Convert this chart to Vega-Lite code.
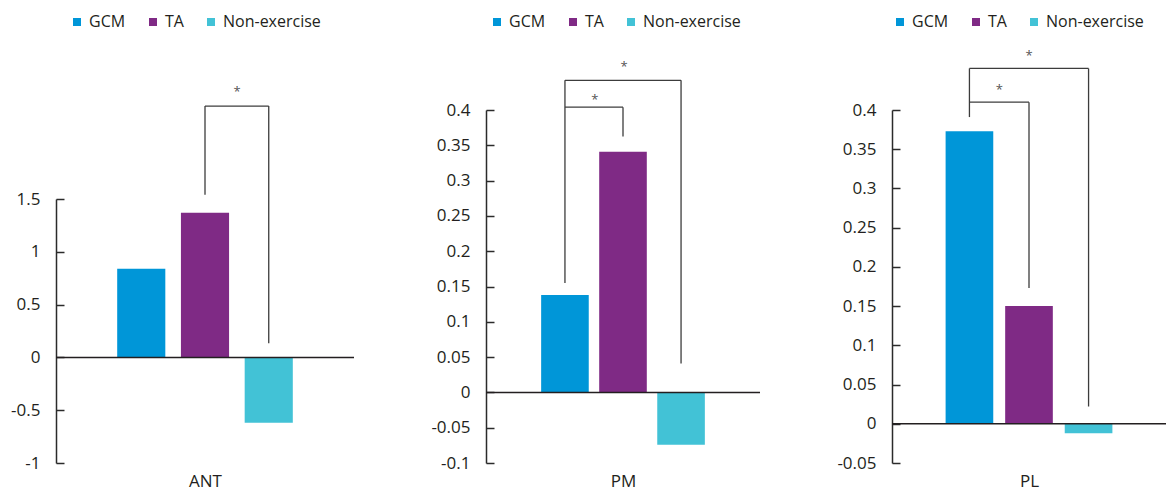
{
  "$schema": "https://vega.github.io/schema/vega-lite/v6.json",
  "background": "white",
  "padding": {"left": 10, "top": 14, "right": 0, "bottom": 0},
  "datasets": {
    "bars": [
      {"panel": "ANT", "group": "GCM", "value": 0.84},
      {"panel": "ANT", "group": "TA", "value": 1.37},
      {"panel": "ANT", "group": "Non-exercise", "value": -0.62},
      {"panel": "PM", "group": "GCM", "value": 0.138},
      {"panel": "PM", "group": "TA", "value": 0.341},
      {"panel": "PM", "group": "Non-exercise", "value": -0.074},
      {"panel": "PL", "group": "GCM", "value": 0.373},
      {"panel": "PL", "group": "TA", "value": 0.15},
      {"panel": "PL", "group": "Non-exercise", "value": -0.012}
    ],
    "zero": [
      {"panel": "ANT", "value": 0},
      {"panel": "PM", "value": 0},
      {"panel": "PL", "value": 0}
    ],
    "brackets": [
      {"panel": "ANT", "g1": "TA", "g2": "TA", "v1": 1.54, "v2": 2.38},
      {"panel": "ANT", "g1": "TA", "g2": "Non-exercise", "v1": 2.38, "v2": 2.38},
      {"panel": "ANT", "g1": "Non-exercise", "g2": "Non-exercise", "v1": 2.38, "v2": 0.135},
      {"panel": "PM", "g1": "GCM", "g2": "GCM", "v1": 0.155, "v2": 0.442},
      {"panel": "PM", "g1": "GCM", "g2": "Non-exercise", "v1": 0.442, "v2": 0.442},
      {"panel": "PM", "g1": "Non-exercise", "g2": "Non-exercise", "v1": 0.442, "v2": 0.041},
      {"panel": "PM", "g1": "GCM", "g2": "TA", "v1": 0.404, "v2": 0.404},
      {"panel": "PM", "g1": "TA", "g2": "TA", "v1": 0.404, "v2": 0.3625},
      {"panel": "PL", "g1": "GCM", "g2": "GCM", "v1": 0.391, "v2": 0.453},
      {"panel": "PL", "g1": "GCM", "g2": "Non-exercise", "v1": 0.453, "v2": 0.453},
      {"panel": "PL", "g1": "Non-exercise", "g2": "Non-exercise", "v1": 0.453, "v2": 0.022},
      {"panel": "PL", "g1": "GCM", "g2": "TA", "v1": 0.41, "v2": 0.41},
      {"panel": "PL", "g1": "TA", "g2": "TA", "v1": 0.41, "v2": 0.173}
    ],
    "stars": [
      {"panel": "ANT", "at": "TA", "mid": true, "v": 2.547, "label": "*"},
      {"panel": "PM", "at": "TA", "mid": false, "v": 0.466, "label": "*"},
      {"panel": "PM", "at": "GCM", "mid": true, "v": 0.42, "label": "*"},
      {"panel": "PL", "at": "TA", "mid": false, "v": 0.474, "label": "*"},
      {"panel": "PL", "at": "GCM", "mid": true, "v": 0.431, "label": "*"}
    ]
  },
  "spacing": 75,
  "resolve": {"scale": {"x": "independent", "y": "independent"}, "legend": {"color": "independent"}},
  "hconcat": [
    {
      "width": 298,
      "height": 353,
      "layer": [
        {
          "data": {"name": "bars"},
          "transform": [{"filter": "datum.panel == 'ANT'"}],
          "mark": {"type": "bar"},
          "encoding": {
            "x": {"field": "group", "type": "nominal", "sort": ["GCM", "TA", "Non-exercise"],
                  "scale": {"domain": ["GCM", "TA", "Non-exercise"], "paddingInner": 0.245, "paddingOuter": 0.96},
                  "axis": {"title": "ANT", "labels": false, "ticks": false, "domain": false}},
            "y": {"field": "value", "type": "quantitative", "scale": {"domain": [-1, 2.343], "nice": false},
                  "axis": {"title": null, "values": [-1, -0.5, 0, 0.5, 1, 1.5], "labelExpr": "'' + datum.value",
                           "tickCount": 20, "labelOverlap": false, "domainDash": [264, 200]}},
            "color": {"field": "group", "type": "nominal",
                      "scale": {"domain": ["GCM", "TA", "Non-exercise"], "range": ["#0096D8", "#7F2A85", "#42C2D6"]},
                      "legend": {"legendX": 13, "legendY": -96}}
          }
        },
        {
          "data": {"name": "zero"},
          "transform": [{"filter": "datum.panel == 'ANT'"}],
          "mark": {"type": "rule", "color": "#231f20", "strokeWidth": 1.5},
          "encoding": {"y": {"field": "value", "type": "quantitative"}}
        },
        {
          "data": {"name": "brackets"},
          "transform": [{"filter": "datum.panel == 'ANT'"}],
          "mark": {"type": "rule", "color": "#3c3c3c", "strokeWidth": 1.3},
          "encoding": {
            "x": {"field": "g1", "type": "nominal"},
            "x2": {"field": "g2"},
            "y": {"field": "v1", "type": "quantitative"},
            "y2": {"field": "v2"}
          }
        },
        {
          "data": {"name": "stars"},
          "transform": [{"filter": "datum.panel == 'ANT' && datum.mid"}],
          "mark": {"type": "text", "dx": 32, "dy": 4, "fontSize": 13, "color": "#555555", "baseline": "middle"},
          "encoding": {
            "x": {"field": "at", "type": "nominal"},
            "y": {"field": "v", "type": "quantitative"},
            "text": {"field": "label"}
          }
        }
      ]
    },
    {
      "width": 274,
      "height": 353,
      "layer": [
        {
          "data": {"name": "bars"},
          "transform": [{"filter": "datum.panel == 'PM'"}],
          "mark": {"type": "bar"},
          "encoding": {
            "x": {"field": "group", "type": "nominal", "sort": ["GCM", "TA", "Non-exercise"],
                  "scale": {"domain": ["GCM", "TA", "Non-exercise"], "paddingInner": 0.18, "paddingOuter": 0.95},
                  "axis": {"title": "PM", "labels": false, "ticks": false, "domain": false}},
            "y": {"field": "value", "type": "quantitative", "scale": {"domain": [-0.1, 0.4], "nice": false},
                  "axis": {"title": null, "values": [-0.1, -0.05, 0, 0.05, 0.1, 0.15, 0.2, 0.25, 0.3, 0.35, 0.4], "labelExpr": "'' + datum.value",
                           "tickCount": 20, "labelOverlap": false}},
            "color": {"field": "group", "type": "nominal",
                      "scale": {"domain": ["GCM", "TA", "Non-exercise"], "range": ["#0096D8", "#7F2A85", "#42C2D6"]},
                      "legend": {"legendX": 3, "legendY": -96}}
          }
        },
        {
          "data": {"name": "zero"},
          "transform": [{"filter": "datum.panel == 'PM'"}],
          "mark": {"type": "rule", "color": "#231f20", "strokeWidth": 1.5},
          "encoding": {"y": {"field": "value", "type": "quantitative"}}
        },
        {
          "data": {"name": "brackets"},
          "transform": [{"filter": "datum.panel == 'PM'"}],
          "mark": {"type": "rule", "color": "#3c3c3c", "strokeWidth": 1.3},
          "encoding": {
            "x": {"field": "g1", "type": "nominal"},
            "x2": {"field": "g2"},
            "y": {"field": "v1", "type": "quantitative"},
            "y2": {"field": "v2"}
          }
        },
        {
          "data": {"name": "stars"},
          "transform": [{"filter": "datum.panel == 'PM' && datum.mid"}],
          "mark": {"type": "text", "dx": 30, "dy": 4, "fontSize": 13, "color": "#555555", "baseline": "middle"},
          "encoding": {
            "x": {"field": "at", "type": "nominal"},
            "y": {"field": "v", "type": "quantitative"},
            "text": {"field": "label"}
          }
        },
        {
          "data": {"name": "stars"},
          "transform": [{"filter": "datum.panel == 'PM' && !datum.mid"}],
          "mark": {"type": "text", "dx": 1, "dy": 4, "fontSize": 13, "color": "#555555", "baseline": "middle"},
          "encoding": {
            "x": {"field": "at", "type": "nominal"},
            "y": {"field": "v", "type": "quantitative"},
            "text": {"field": "label"}
          }
        }
      ]
    },
    {
      "width": 274,
      "height": 353,
      "layer": [
        {
          "data": {"name": "bars"},
          "transform": [{"filter": "datum.panel == 'PL'"}],
          "mark": {"type": "bar"},
          "encoding": {
            "x": {"field": "group", "type": "nominal", "sort": ["GCM", "TA", "Non-exercise"],
                  "scale": {"domain": ["GCM", "TA", "Non-exercise"], "paddingInner": 0.2, "paddingOuter": 0.9},
                  "axis": {"title": "PL", "labels": false, "ticks": false, "domain": false}},
            "y": {"field": "value", "type": "quantitative", "scale": {"domain": [-0.05, 0.4], "nice": false},
                  "axis": {"title": null, "values": [-0.05, 0, 0.05, 0.1, 0.15, 0.2, 0.25, 0.3, 0.35, 0.4], "labelExpr": "'' + datum.value",
                           "tickCount": 20, "labelOverlap": false}},
            "color": {"field": "group", "type": "nominal",
                      "scale": {"domain": ["GCM", "TA", "Non-exercise"], "range": ["#0096D8", "#7F2A85", "#42C2D6"]},
                      "legend": {"legendX": 0, "legendY": -96}}
          }
        },
        {
          "data": {"name": "zero"},
          "transform": [{"filter": "datum.panel == 'PL'"}],
          "mark": {"type": "rule", "color": "#231f20", "strokeWidth": 1.5},
          "encoding": {"y": {"field": "value", "type": "quantitative"}}
        },
        {
          "data": {"name": "brackets"},
          "transform": [{"filter": "datum.panel == 'PL'"}],
          "mark": {"type": "rule", "color": "#3c3c3c", "strokeWidth": 1.3},
          "encoding": {
            "x": {"field": "g1", "type": "nominal"},
            "x2": {"field": "g2"},
            "y": {"field": "v1", "type": "quantitative"},
            "y2": {"field": "v2"}
          }
        },
        {
          "data": {"name": "stars"},
          "transform": [{"filter": "datum.panel == 'PL' && datum.mid"}],
          "mark": {"type": "text", "dx": 30, "dy": 4, "fontSize": 13, "color": "#555555", "baseline": "middle"},
          "encoding": {
            "x": {"field": "at", "type": "nominal"},
            "y": {"field": "v", "type": "quantitative"},
            "text": {"field": "label"}
          }
        },
        {
          "data": {"name": "stars"},
          "transform": [{"filter": "datum.panel == 'PL' && !datum.mid"}],
          "mark": {"type": "text", "dx": 0, "dy": 4, "fontSize": 13, "color": "#555555", "baseline": "middle"},
          "encoding": {
            "x": {"field": "at", "type": "nominal"},
            "y": {"field": "v", "type": "quantitative"},
            "text": {"field": "label"}
          }
        }
      ]
    }
  ],
  "config": {
    "font": "Open Sans",
    "view": {"stroke": null},
    "axis": {"grid": false},
    "axisY": {
      "domainColor": "#2b2b2b", "domainWidth": 1.5,
      "tickColor": "#2b2b2b", "tickWidth": 1.5, "tickSize": -8,
      "labelPadding": 24, "labelFontSize": 17, "labelColor": "#231f20", "labelFont": "Open Sans",
      "labelOverlap": false
    },
    "axisX": {
      "titleFontSize": 17, "titleFontWeight": "normal", "titleColor": "#231f20", "titleFont": "Open Sans", "titlePadding": 10
    },
    "legend": {
      "orient": "none", "direction": "horizontal", "title": null,
      "symbolType": "square", "symbolSize": 64, "symbolStrokeWidth": 0,
      "labelFontSize": 16, "labelColor": "#231f20", "labelFont": "Open Sans",
      "columnPadding": 19, "labelOffset": 4
    },
    "text": {"font": "Open Sans"}
  }
}
